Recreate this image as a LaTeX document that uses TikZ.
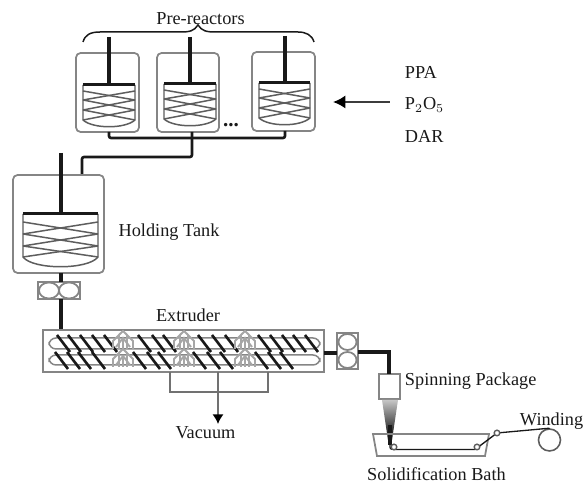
\documentclass[tikz,border=0pt]{standalone}
\usepackage{fontspec}
\setmainfont{Liberation Serif}
\usetikzlibrary{arrows.meta}
\definecolor{ink}{gray}{0.1}
\definecolor{vesselc}{gray}{0.52}
\tikzset{
  x=0.02cm,y=-0.02cm,
  vessel/.style={draw=vesselc,line width=1pt,rounded corners=2.6pt,inner sep=0,outer sep=0,fill=white},
  plainbox/.style={draw=vesselc,line width=1pt,inner sep=0,outer sep=0},
  shaft/.style={draw=ink,line width=2pt},
  pipe/.style={draw=ink,line width=1.5pt,rounded corners=1.2pt},
  thickpipe/.style={draw=ink,line width=2.4pt},
  thinpipe/.style={draw=vesselc!85!black,line width=1pt},
  lab/.style={inner sep=0,outer sep=0,text=ink,font=\fontsize{10.4}{12}\selectfont},
  mixline/.style={draw=vesselc!70!black,line width=0.85pt},
  bar/.style={draw=ink,line width=1.7pt},
  flight/.style={draw=ink,line width=1.5pt},
  knead/.style={draw=gray!70,line width=1.1pt},
}
\newcommand{\boxn}[6]{%
  \pgfmathsetmacro{\bw}{(#5-#3)*0.02}\pgfmathsetmacro{\bh}{(#6-#4)*0.02}%
  \pgfmathsetmacro{\bx}{(#3+#5)/2}\pgfmathsetmacro{\by}{(#4+#6)/2}%
  \node[#2,minimum width=\bw cm,minimum height=\bh cm] (#1) at (\bx,\by) {};}
% x1 x2 top curve-start bottom
\newcommand{\mixer}[8]{%
  \draw[mixline] (#1,#3) -- (#1,#4) .. controls (#1+10,#5+1) and (#2-10,#5+1) .. (#2,#4) -- (#2,#3);
  \draw[bar] (#1,#3) -- (#2,#3);
  \foreach \ya/\yb in {#6/#7,#7/#8,#8/#4}{
    \draw[mixline] (#1,\ya) -- (#2,\yb);
    \draw[mixline] (#1,\yb) -- (#2,\ya);
  }}
\newcommand{\kneading}[1]{%
  \foreach \yy in {349,367}{
    \begin{scope}[shift={(#1,\yy)}]
      \draw[knead] (-10,0) -- (-10,-8) -- (-4,-14) -- (-4,0);
      \draw[knead] (10,0) -- (10,-8) -- (4,-14) -- (4,0);
      \draw[knead] (-4,-14) -- (0,-18) -- (4,-14);
      \draw[knead] (-7,-2) -- (0,-11) -- (7,-2);
      \draw[knead] (0,-11) -- (0,0);
    \end{scope}}}
\begin{document}
\begin{tikzpicture}
\useasboundingbox (0,0) rectangle (583,482);
% Pre-reactors
\boxn{rone}{vessel}{76}{53}{139}{132}
\boxn{rtwo}{vessel}{157}{53}{219}{132}
\boxn{rthree}{vessel}{252}{52}{315}{131}
\mixer{83}{135}{85}{120}{128}{91}{100}{110}
\mixer{164}{216}{84}{119}{127}{90}{99}{109}
\mixer{259}{310}{83}{118}{126}{89}{98}{108}
\coordinate (sa) at (109,37); \coordinate (sb) at (190,37); \coordinate (sc) at (285,36);
\coordinate (ba) at (109,85); \coordinate (bb) at (190,84); \coordinate (bc) at (285,83);
\draw[shaft] (sa) -- (ba); \draw[shaft] (sb) -- (bb); \draw[shaft] (sc) -- (bc);
\node[lab] (prelab) at (200.5,19) {Pre-reactors};
\draw[draw=ink,line width=0.85pt] (83,42) .. controls (85,35) and (90,32) .. (100,32) -- (180,32) .. controls (190,32) and (194,31) .. (198,25) .. controls (202,31) and (206,32) .. (216,32) -- (298,32) .. controls (306,32) and (312,35) .. (314,42);
\node[inner sep=0,text=ink,font=\bfseries\fontsize{12}{12}\selectfont] (dots) at (231,125) {...};
% manifold
\coordinate (ma) at (109,132); \coordinate (mb) at (192,132); \coordinate (mc) at (285,131);
\draw[pipe] (ma) |- (mc |- 0,138) -- (mc);
\coordinate (tanktop) at (82,175);
\draw[pipe] (mb) |- (tanktop |- 0,157) -- (tanktop);
% Holding tank
\boxn{tank}{vessel}{13}{175}{104}{273}
\mixer{23}{98}{214}{257}{269}{222}{234}{246}
\coordinate (ts) at (61,153); \coordinate (tb) at (61,214);
\draw[line width=2.8pt,draw=ink] (ts) -- (tb);
\node[lab] (holdlab) at (169,232) {Holding Tank};
% pump 1
\boxn{pumpa}{plainbox}{38}{282}{80}{299}
\draw[draw=vesselc,line width=1pt] (49,290.5) circle [x radius=10,y radius=8];
\draw[draw=vesselc,line width=1pt] (69,290.5) circle [x radius=10,y radius=8];
\coordinate (pat) at (61,273); \coordinate (pab) at (61,299); \coordinate (pac) at (61,282); \coordinate (exin) at (61,330);
\draw[thickpipe] (pat) -- (pac); \draw[thickpipe] (pab) -- (exin);
% Extruder
\boxn{extr}{plainbox}{43}{330}{324}{372}
\draw[draw=vesselc,line width=0.85pt,rounded corners=4pt] (49,338) rectangle (320,349);
\draw[draw=vesselc,line width=0.85pt,rounded corners=4pt] (49,355) rectangle (320,365);
\foreach \xx in {57,68,80,92,104,138,152,163,198,212,225,258,270,282,293,305}{
  \draw[flight] (\xx,335) -- (\xx+13,352);}
\foreach \xx in {55,67,78,92,133,147,158,193,207,220,255,268,280}{
  \draw[flight] (\xx,352) -- (\xx+13,369);}
\kneading{123}\kneading{184}\kneading{245}
\node[lab] (extlab) at (188,315) {Extruder};
% Vacuum
\coordinate (va) at (170,372); \coordinate (vb) at (268,372); \coordinate (vc) at (218,372); \coordinate (vt) at (218,424);
\draw[thinpipe] (va) |- (vb |- 0,392) -- (vb);
\draw[thinpipe,line width=1.2pt,-{Latex[length=5.5pt,width=6.5pt,black]}] (vc) -- (vt);
\node[lab] (vaclab) at (205.5,433) {Vacuum};
% pump 2
\boxn{pumpb}{plainbox}{337}{333}{358}{369}
\draw[draw=vesselc,line width=1pt] (347.5,342) circle [x radius=9,y radius=8];
\draw[draw=vesselc,line width=1pt] (347.5,360) circle [x radius=9,y radius=8];
\coordinate (exout) at (324,353); \coordinate (pbin) at (337,353);
\draw[thickpipe] (exout) -- (pbin);
% Spinning package
\boxn{spin}{plainbox}{379}{374}{400}{399}
\coordinate (pbout) at (358,352); \coordinate (spintop) at (389,374);
\draw[thickpipe] (pbout) -| (spintop);
\node[lab,anchor=west] (spinlab) at (405,381) {Spinning Package};
% spray cone
\shade[top color=gray!45,bottom color=black] (382,400) -- (398,400) -- (392,440) -- (388,440) -- cycle;
\draw[draw=ink,line width=2pt] (390,425) -- (390,445);
% bath
\draw[draw=vesselc,line width=1pt] (373,434) -- (489,434) -- (485,456) -- (377,456) -- cycle;
\node[draw=vesselc!70!black,line width=0.9pt,circle,minimum size=0.44cm,inner sep=0] (wind) at (549.5,440) {};
\coordinate (rolla) at (394,447); \coordinate (rollb) at (477,447); \coordinate (rollc) at (497,433);
\draw[draw=ink,line width=0.75pt] (390,445) .. controls (390,449) .. (394,449.5) -- (475,449.5) -- (rollc) -- (wind.north);
\draw[draw=vesselc!70!black,line width=0.8pt,fill=white] (rolla) circle [radius=2.8];
\draw[draw=vesselc!70!black,line width=0.8pt,fill=white] (rollb) circle [radius=2.8];
\draw[draw=vesselc!70!black,line width=0.8pt,fill=white] (rollc) circle [radius=2.8];
\node[lab,anchor=west] (windlab) at (520,421) {Winding};
\node[lab] (bathlab) at (436.5,474) {Solidification Bath};
% Feed
\node[lab,anchor=west] (ppa) at (405,72) {PPA};
\node[lab,anchor=west] (poo) at (405,105) {P$_2$O$_5$};
\node[lab,anchor=west] (dar) at (405,136) {DAR};
\coordinate (feedstart) at (390,102); \coordinate (feedend) at (333,102);
\draw[draw=ink!85,line width=1.3pt,-{Latex[length=7pt,width=7.5pt,black]}] (feedstart) -- (feedend);
\end{tikzpicture}
\end{document}
